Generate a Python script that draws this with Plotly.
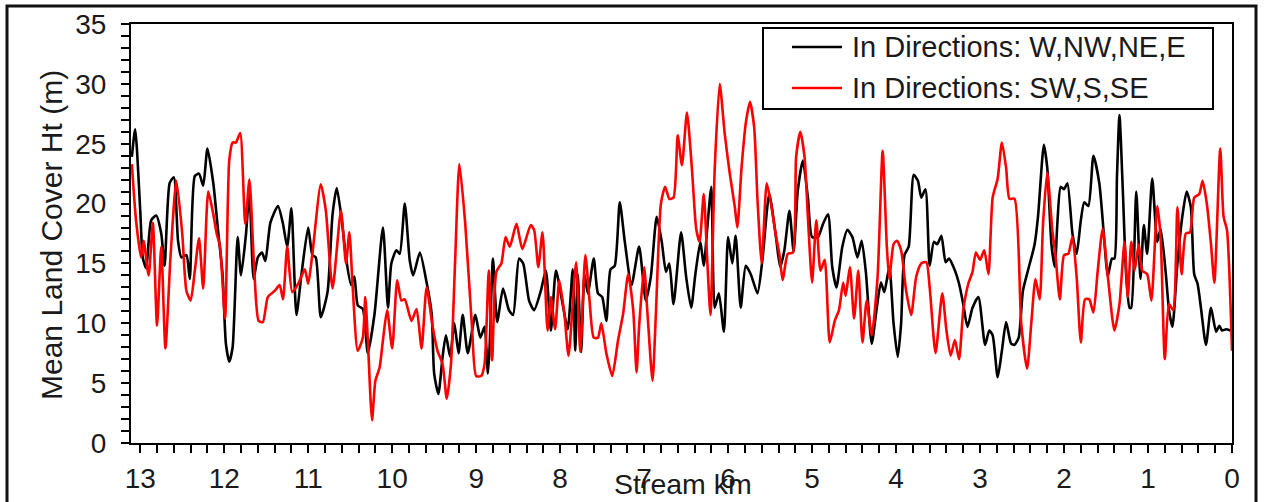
import plotly.graph_objects as go

# ---- data ----
black_km = [13.10, 13.06, 13.00, 12.97, 12.93, 12.87, 12.81, 12.75, 12.71, 12.65,
            12.60, 12.55, 12.51, 12.45, 12.41, 12.35, 12.30, 12.25, 12.20, 12.13,
            12.07, 12.02, 11.98, 11.94, 11.90, 11.84, 11.80, 11.74, 11.70, 11.65,
            11.60, 11.55, 11.51, 11.45, 11.36, 11.30, 11.25, 11.20, 11.14, 11.08,
            11.00, 10.95, 10.91, 10.85, 10.77, 10.71, 10.66, 10.60, 10.55, 10.49,
            10.45, 10.41, 10.35, 10.29, 10.21, 10.11, 10.05, 10.01, 9.95, 9.91,
            9.85, 9.79, 9.75, 9.67, 9.59, 9.53, 9.50, 9.45, 9.40, 9.36,
            9.31, 9.26, 9.21, 9.16, 9.10, 9.01, 8.95, 8.90, 8.86, 8.84,
            8.80, 8.75, 8.68, 8.61, 8.56, 8.49, 8.44, 8.37, 8.31, 8.23,
            8.17, 8.11, 8.05, 7.97, 7.91, 7.85, 7.82, 7.79, 7.75, 7.71,
            7.67, 7.60, 7.55, 7.50, 7.45, 7.40, 7.35, 7.29, 7.23, 7.15,
            7.06, 6.98, 6.92, 6.85, 6.79, 6.74, 6.70, 6.65, 6.56, 6.50,
            6.44, 6.39, 6.33, 6.29, 6.25, 6.20, 6.16, 6.11, 6.05, 6.00,
            5.95, 5.91, 5.85, 5.79, 5.73, 5.65, 5.59, 5.51, 5.43, 5.38,
            5.33, 5.27, 5.22, 5.17, 5.11, 5.05, 5.00, 4.93, 4.87, 4.81,
            4.76, 4.71, 4.64, 4.58, 4.52, 4.46, 4.41, 4.36, 4.29, 4.23,
            4.18, 4.14, 4.08, 4.03, 3.98, 3.94, 3.90, 3.85, 3.79, 3.74,
            3.70, 3.65, 3.60, 3.55, 3.51, 3.46, 3.41, 3.37, 3.31, 3.25,
            3.20, 3.15, 3.09, 3.02, 2.94, 2.89, 2.85, 2.79, 2.74, 2.69,
            2.63, 2.59, 2.54, 2.49, 2.43, 2.35, 2.31, 2.24, 2.20, 2.15,
            2.11, 2.08, 2.04, 2.00, 1.96, 1.90, 1.85, 1.80, 1.76, 1.71,
            1.65, 1.58, 1.52, 1.48, 1.43, 1.40, 1.37, 1.34, 1.30, 1.26,
            1.22, 1.20, 1.14, 1.09, 1.05, 1.01, 0.95, 0.89, 0.85, 0.79,
            0.75, 0.71, 0.65, 0.59, 0.54, 0.49, 0.45, 0.41, 0.37, 0.31,
            0.25, 0.19, 0.15, 0.12, 0.07, 0.02]

black_ht = [23.9, 26.2, 19.4, 15.5, 14.6, 18.6, 19.0, 17.5, 14.8, 21.7,
            22.2, 16.9, 15.5, 15.7, 13.7, 22.3, 22.5, 21.5, 24.6, 21.7,
            17.5, 14.1, 8.3, 6.8, 8.0, 17.2, 14.0, 17.5, 21.1, 13.7,
            15.5, 15.9, 15.2, 18.4, 19.8, 18.3, 16.4, 19.6, 10.7, 14.1,
            18.0, 15.7, 15.5, 10.5, 12.6, 19.1, 21.3, 18.6, 15.5, 13.2,
            13.9, 11.5, 11.2, 7.5, 10.8, 18.0, 11.3, 15.0, 16.1, 15.8,
            20.0, 15.2, 14.0, 15.9, 13.4, 10.8, 5.8, 4.1, 7.2, 9.0,
            7.2, 10.0, 7.5, 10.7, 7.5, 10.7, 8.8, 9.7, 5.8, 8.0,
            15.4, 10.1, 12.9, 11.1, 10.7, 15.4, 15.0, 11.9, 11.1, 12.7,
            14.4, 9.4, 14.4, 11.6, 9.5, 14.5, 7.7, 14.1, 7.6, 14.1,
            12.5, 15.4, 12.5, 12.2, 10.2, 14.5, 14.8, 20.1, 16.8, 13.2,
            16.4, 11.9, 13.9, 18.9, 16.8, 14.3, 15.0, 11.6, 17.6, 13.9,
            11.3, 14.1, 16.8, 14.8, 17.8, 21.4, 11.3, 12.5, 9.3, 17.2,
            15.0, 17.3, 11.3, 14.8, 14.1, 12.5, 15.4, 20.8, 17.2, 14.7,
            16.1, 19.4, 16.0, 21.1, 23.6, 20.5, 17.2, 17.2, 18.3, 19.1,
            14.7, 13.0, 16.4, 17.8, 17.2, 15.5, 16.9, 14.3, 8.3, 11.3,
            13.4, 12.6, 14.7, 10.0, 7.2, 10.0, 15.7, 16.4, 22.4, 21.9,
            20.5, 21.2, 14.8, 16.8, 16.6, 17.3, 15.1, 15.4, 14.6, 13.3,
            11.6, 9.7, 11.3, 12.2, 8.2, 9.4, 9.0, 5.5, 7.7, 10.1,
            8.3, 8.2, 8.8, 12.7, 14.4, 16.6, 18.9, 24.9, 23.0, 16.6,
            14.7, 18.3, 21.4, 21.2, 21.7, 17.5, 15.8, 18.6, 20.1, 19.8,
            24.0, 21.7, 16.9, 13.9, 15.4, 15.4, 22.2, 27.4, 21.1, 14.0,
            11.3, 11.3, 21.0, 13.7, 18.2, 15.8, 22.1, 16.8, 17.9, 14.3,
            11.1, 9.7, 15.0, 19.0, 21.0, 19.7, 14.1, 13.3, 11.3, 8.2,
            11.3, 9.3, 9.8, 9.4, 9.5, 9.4]

red_km = [13.10, 13.05, 12.99, 12.96, 12.90, 12.85, 12.80, 12.75, 12.70, 12.64,
          12.57, 12.50, 12.45, 12.40, 12.35, 12.30, 12.25, 12.19, 12.13, 12.09,
          12.05, 11.99, 11.94, 11.90, 11.86, 11.81, 11.75, 11.70, 11.64, 11.59,
          11.54, 11.48, 11.40, 11.34, 11.30, 11.25, 11.19, 11.12, 11.04, 11.00,
          10.95, 10.85, 10.79, 10.71, 10.61, 10.55, 10.51, 10.47, 10.41, 10.35,
          10.32, 10.29, 10.24, 10.20, 10.15, 10.11, 10.06, 10.00, 9.94, 9.89,
          9.85, 9.77, 9.71, 9.65, 9.59, 9.52, 9.46, 9.40, 9.35, 9.30,
          9.25, 9.20, 9.13, 9.05, 9.00, 8.94, 8.90, 8.85, 8.81, 8.76,
          8.70, 8.65, 8.60, 8.52, 8.45, 8.35, 8.31, 8.26, 8.21, 8.15,
          8.11, 8.06, 8.01, 7.95, 7.90, 7.81, 7.76, 7.70, 7.65, 7.60,
          7.55, 7.51, 7.45, 7.38, 7.31, 7.25, 7.19, 7.13, 7.09, 7.06,
          7.00, 6.96, 6.90, 6.86, 6.80, 6.75, 6.70, 6.65, 6.60, 6.55,
          6.49, 6.43, 6.38, 6.34, 6.29, 6.25, 6.21, 6.16, 6.10, 6.04,
          5.98, 5.92, 5.89, 5.84, 5.79, 5.74, 5.69, 5.65, 5.60, 5.54,
          5.49, 5.43, 5.39, 5.35, 5.29, 5.23, 5.19, 5.14, 5.09, 5.05,
          5.00, 4.95, 4.90, 4.85, 4.79, 4.73, 4.68, 4.63, 4.60, 4.55,
          4.50, 4.45, 4.40, 4.35, 4.29, 4.22, 4.16, 4.11, 4.08, 4.03,
          3.99, 3.94, 3.88, 3.82, 3.76, 3.70, 3.64, 3.60, 3.53, 3.45,
          3.40, 3.35, 3.30, 3.25, 3.20, 3.14, 3.09, 3.05, 3.00, 2.95,
          2.90, 2.85, 2.79, 2.74, 2.69, 2.65, 2.59, 2.51, 2.44, 2.39,
          2.34, 2.29, 2.25, 2.20, 2.14, 2.10, 2.05, 2.00, 1.95, 1.90,
          1.85, 1.80, 1.75, 1.70, 1.65, 1.60, 1.54, 1.48, 1.40, 1.34,
          1.28, 1.24, 1.20, 1.16, 1.11, 1.07, 1.01, 0.96, 0.89, 0.85,
          0.80, 0.75, 0.70, 0.65, 0.60, 0.55, 0.50, 0.45, 0.39, 0.35,
          0.30, 0.25, 0.21, 0.14, 0.10, 0.06, 0.00]

red_ht = [23.3, 18.6, 15.5, 16.9, 14.0, 18.4, 9.8, 16.4, 7.9, 15.5,
          21.9, 17.5, 12.7, 11.9, 14.4, 17.1, 12.9, 21.0, 19.1, 17.5,
          16.4, 10.4, 23.6, 25.1, 25.1, 25.9, 18.3, 22.0, 14.1, 10.2,
          10.1, 12.2, 12.7, 13.2, 12.0, 16.4, 12.6, 13.3, 14.5, 13.3,
          15.8, 21.6, 19.4, 12.9, 19.4, 15.0, 17.6, 13.0, 7.7, 8.8,
          12.2, 8.6, 1.9, 5.2, 6.3, 8.6, 11.1, 7.9, 13.6, 11.9,
          12.0, 10.2, 11.2, 7.9, 13.0, 9.8, 7.7, 6.6, 3.7, 6.6,
          15.3, 23.3, 18.3, 9.7, 5.6, 5.6, 6.6, 14.4, 6.9, 14.3,
          15.0, 17.2, 16.4, 18.3, 16.2, 18.2, 17.8, 14.7, 17.6, 9.4,
          12.2, 9.5, 13.6, 10.8, 7.3, 15.1, 7.6, 15.7, 11.9, 8.8,
          8.8, 10.0, 7.5, 5.6, 8.6, 10.8, 14.1, 11.1, 5.9, 9.7,
          14.7, 10.8, 5.2, 10.8, 20.0, 21.4, 20.4, 20.5, 25.7, 23.2,
          27.6, 22.8, 17.9, 16.8, 20.8, 15.5, 10.7, 22.8, 30.0, 25.8,
          22.5, 19.7, 18.0, 23.0, 26.7, 28.5, 26.4, 20.3, 15.0, 21.7,
          20.0, 17.3, 15.8, 13.6, 15.8, 15.9, 23.9, 26.0, 23.9, 18.9,
          13.4, 18.6, 14.4, 15.3, 8.4, 10.2, 11.1, 13.4, 12.3, 14.7,
          10.4, 14.4, 8.4, 11.9, 9.0, 13.9, 24.4, 16.4, 13.7, 16.6,
          16.9, 16.1, 12.7, 10.7, 13.9, 15.0, 15.1, 13.0, 7.5, 12.5,
          9.4, 7.3, 8.6, 7.0, 11.1, 13.3, 14.3, 15.9, 15.3, 16.1,
          14.1, 20.5, 22.1, 25.1, 23.0, 20.4, 20.4, 10.0, 6.2, 10.0,
          13.7, 12.0, 18.3, 22.6, 17.8, 15.5, 12.0, 15.7, 15.8, 17.2,
          13.9, 8.4, 12.0, 12.0, 10.9, 14.3, 17.9, 14.0, 9.4, 11.6,
          16.8, 12.2, 16.8, 14.4, 16.6, 14.4, 14.1, 11.9, 19.8, 17.2,
          7.0, 11.6, 11.1, 19.7, 14.1, 17.5, 17.6, 20.5, 20.8, 21.9,
          20.0, 16.6, 13.4, 24.6, 18.9, 17.8, 7.7]

series_names = ["In Directions: W,NW,NE,E", "In Directions: SW,S,SE"]
series_colors = ["#000000", "#ff0000"]
x_ticks = list(range(0, 14))
y_ticks = list(range(0, 36, 5))
x_title = "Stream km"
y_title = "Mean Land Cover Ht (m)"

assert len(black_km) == len(black_ht), (len(black_km), len(black_ht))
assert len(red_km) == len(red_ht), (len(red_km), len(red_ht))

FONT = "Arial, 'Liberation Sans', Helvetica, sans-serif"
TXT = "#1a1a1a"
LW = 2.6

fig = go.Figure()
fig.add_trace(go.Scatter(x=black_km, y=black_ht, mode="lines", name=series_names[0],
                         line=dict(color=series_colors[0], width=LW, shape="spline", smoothing=0.6),
                         showlegend=False))
fig.add_trace(go.Scatter(x=red_km, y=red_ht, mode="lines", name=series_names[1],
                         line=dict(color=series_colors[1], width=LW, shape="spline", smoothing=0.6),
                         showlegend=False))

L, R, T, B = 131, 35, 24, 59
W, H = 1267, 502
pw, ph = W - L - R, H - T - B

def px_x(p):
    return (p - L) / pw

def px_y(p):
    return (H - B - p) / ph

axis_common = dict(showgrid=False, zeroline=False, showline=True, linecolor="black",
                   linewidth=2, mirror=True, ticks="outside", tickcolor="black",
                   tickwidth=2, ticklen=8, automargin=False,
                   tickfont=dict(family=FONT, size=28, color=TXT))

fig.update_xaxes(range=[13.11, 0], tickvals=x_ticks, ticktext=[str(v) for v in x_ticks],
                 minor=dict(dtick=0.2, ticks="outside", ticklen=8, tickcolor="black", tickwidth=2),
                 ticklabelstandoff=1, **axis_common)
fig.update_yaxes(range=[0, 35], tickvals=y_ticks, ticktext=[str(v) for v in y_ticks],
                 minor=dict(dtick=1, ticks="outside", ticklen=8, tickcolor="black", tickwidth=2),
                 ticklabelstandoff=9, **axis_common)

# legend box (drawn by hand to match the reference's framed legend)
leg_x0, leg_x1, leg_y0, leg_y1 = 763, 1213, 28, 109
row_y = [47, 88]
sample_x0, sample_x1, text_x = 792, 842, 850

shapes = [dict(type="rect", xref="paper", yref="paper",
               x0=px_x(7), x1=px_x(1256), y0=px_y(515), y1=px_y(6),
               line=dict(color="#111111", width=3), fillcolor="rgba(0,0,0,0)", layer="above"),
          dict(type="rect", xref="paper", yref="paper",
               x0=px_x(leg_x0), x1=px_x(leg_x1), y0=px_y(leg_y1), y1=px_y(leg_y0),
               line=dict(color="black", width=2), fillcolor="white", layer="above")]
annotations = [
    dict(text=x_title, xref="paper", yref="paper", x=px_x(683), y=px_y(484),
         xanchor="center", yanchor="middle", showarrow=False,
         font=dict(family=FONT, size=28.5, color=TXT)),
    dict(text=y_title, xref="paper", yref="paper", x=px_x(51), y=px_y(235),
         xanchor="center", yanchor="middle", showarrow=False, textangle=-90,
         font=dict(family=FONT, size=30, color=TXT)),
]
for name, color, ry in zip(series_names, series_colors, row_y):
    shapes.append(dict(type="line", xref="paper", yref="paper",
                       x0=px_x(sample_x0), x1=px_x(sample_x1), y0=px_y(ry), y1=px_y(ry),
                       line=dict(color=color, width=LW), layer="above"))
    annotations.append(dict(text=name, xref="paper", yref="paper", x=px_x(text_x), y=px_y(ry),
                            xanchor="left", yanchor="middle", showarrow=False,
                            font=dict(family=FONT, size=29, color=TXT)))

fig.update_layout(
    width=W, height=H,
    margin=dict(l=L, r=R, t=T, b=B, pad=0, autoexpand=False),
    paper_bgcolor="white", plot_bgcolor="white",
    font=dict(family=FONT, color=TXT),
    showlegend=False,
    annotations=annotations,
    shapes=shapes,
)

fig.write_html("out.html", config={"displayModeBar": False},
               post_script="document.body.style.margin='0';document.body.style.overflow='hidden';")
